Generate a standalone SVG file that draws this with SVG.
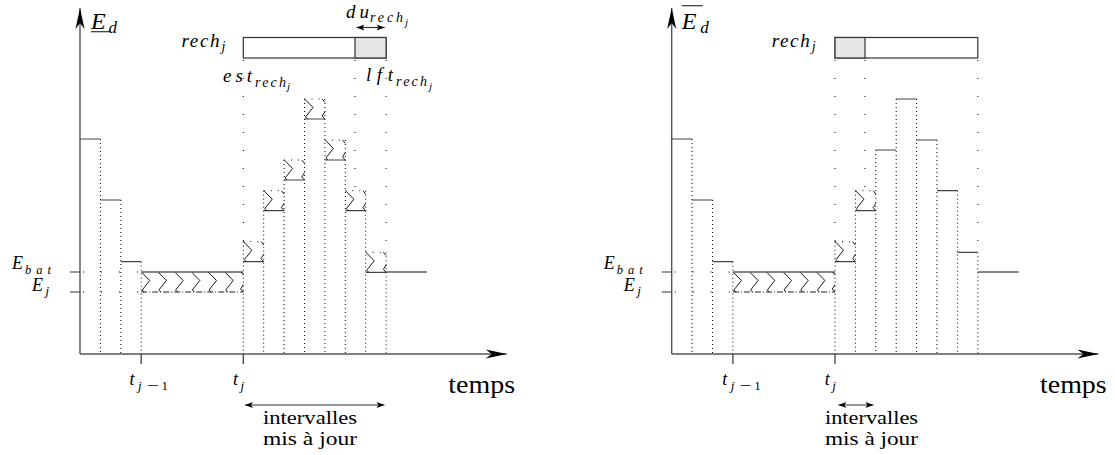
<svg xmlns="http://www.w3.org/2000/svg" xmlns:xlink="http://www.w3.org/1999/xlink" width="1115" height="455" viewBox="0 0 1115 455">
<style>
.ax{stroke:#555;stroke-width:1.4;fill:none}
.lv{stroke:#444;stroke-width:1.2;fill:none}
.lk{stroke:#111;stroke-width:1.2;fill:none}
.dd{stroke:#000;stroke-width:1;stroke-dasharray:1 3;fill:none}
.sd{stroke:#000;stroke-width:1;stroke-dasharray:1 17;fill:none}
.dt{stroke:#000;stroke-width:1;stroke-dasharray:1 6;fill:none}
.da{stroke:#222;stroke-width:1;stroke-dasharray:6 2 1 2;fill:none}
.zz{stroke:#000;stroke-width:0.9;fill:none}
.tk{stroke:#333;stroke-width:1.2;fill:none}
.bx{stroke:#333;stroke-width:1.2}
.ar{stroke:#333;stroke-width:1.2;fill:none}
.m{font-family:"Liberation Serif",serif;font-style:italic;fill:#000}
.r{font-family:"Liberation Serif",serif;fill:#000}
</style>
<defs>
<marker id="stealth" markerUnits="userSpaceOnUse" markerWidth="24" markerHeight="12" viewBox="-22 -6 24 12" refX="0" refY="0" orient="auto"><path d="M0,0 L-21,-4.5 L-15,0 L-21,4.5Z" fill="#000"/></marker>
<marker id="sa" markerUnits="userSpaceOnUse" markerWidth="10" markerHeight="8" viewBox="-9 -4 10 8" refX="0" refY="0" orient="auto-start-reverse"><path d="M0,0 L-8,-3 L-6,0 L-8,3Z" fill="#000"/></marker>
<g id="zb"><path class="zz" d="M0.7,0.5 L8.5,8.5 L1,18 L3,20 M17.7,0 L20.4,3.3 M20.4,12.6 L17.7,17 L20.4,20"/><path class="dt" d="M0,0 H20.4"/></g>
<g id="zl"><path class="zz" d="M0.7,0.5 L8.5,8.5 L1,18 L3,20"/></g>
</defs>

<!-- LEFT PANEL -->
<g id="left">
  <g id="left-connectors">
    <path class="ax" d="M80,354 V8" marker-end="url(#stealth)"/>
    <path class="ax" d="M80,354 H506.7" marker-end="url(#stealth)"/>
    <path class="ar" d="M245,405 H384.5" marker-start="url(#sa)" marker-end="url(#sa)"/>
    <path class="ar" d="M356.5,27.5 H384.6" marker-start="url(#sa)" marker-end="url(#sa)"/>
  </g>
  <g id="left-guides">
    <path class="tk" d="M70,272 H80 M70,292 H80 M141.2,354 V364 M243.3,354 V364"/>
    <path class="sd" d="M83,272 H141 M83,292 H141"/>
    <path class="dd" d="M100.4,139 V354 M120.8,200 V354 M141.2,261.7 V354 M243.3,241.7 V354 M263.7,190.7 V354 M284.1,160 V354 M304.5,99 V354 M324.9,99 V354 M345.3,140 V354 M365.7,190.7 V354 M386.1,252.3 V354"/>
    <path class="sd" d="M243.3,60 V241 M386.1,60 V252 M355,60 V190"/>
  </g>
  <g id="left-levels">
    <path class="lv" d="M80,139 H100.4 M100.4,200 H120.8 M120.8,261.7 H141.2 M243.3,261.7 H263.7 M263.7,210.7 H284.1 M284.1,180 H304.5 M304.5,119 H324.9 M324.9,160 H345.3 M345.3,210.7 H365.7 M365.7,272.3 H386.1"/>
    <path class="lk" d="M141.2,272 H243.3 M386.1,272 H427"/>
    <path class="da" d="M141.2,292 H243.3"/>
  </g>
  <g id="left-zigzags">
    <use href="#zl" x="141.2" y="272"/><use href="#zl" x="157.9" y="272"/><use href="#zl" x="174.6" y="272"/><use href="#zl" x="191.3" y="272"/><use href="#zl" x="208" y="272"/><use href="#zl" x="224.7" y="272"/>
    <path class="zz" d="M241,272 L243.3,274.8 M243.3,284.6 L240.6,289 L243.3,292"/>
    <use href="#zb" x="243.3" y="241.7"/>
    <use href="#zb" x="263.7" y="190.7"/>
    <use href="#zb" x="284.1" y="160"/>
    <use href="#zb" x="304.5" y="99"/>
    <use href="#zb" x="324.9" y="140"/>
    <use href="#zb" x="345.3" y="190.7"/>
    <use href="#zb" x="365.7" y="252.3"/>
  </g>
  <g id="left-rech">
    <rect class="bx" x="243.3" y="37.5" width="142.8" height="20.5" fill="#fff"/>
    <rect class="bx" x="355" y="37.5" width="31.1" height="20.5" fill="#e6e6e6"/>
  </g>
  <g id="left-labels">
    <text class="m" x="91" y="28.5" font-size="24">E</text>
    <path class="tk" d="M91,31.7 H110"/>
    <text class="m" x="108.5" y="33" font-size="17">d</text>
    <text class="m" x="181.5" y="46.7" font-size="19" textLength="38">rech</text>
    <text class="m" x="221.5" y="51" font-size="14">j</text>
    <text class="m" x="223" y="81.7" font-size="19" textLength="29">est</text>
    <text class="m" x="255" y="86.5" font-size="14" textLength="31">rech</text>
    <text class="m" x="287" y="90" font-size="11">j</text>
    <text class="m" x="366" y="81" font-size="19" textLength="27">lft</text>
    <text class="m" x="396" y="86" font-size="14" textLength="31">rech</text>
    <text class="m" x="429" y="89.5" font-size="11">j</text>
    <text class="m" x="346" y="17.5" font-size="19" textLength="23">du</text>
    <text class="m" x="370" y="22" font-size="14" textLength="33">rech</text>
    <text class="m" x="405" y="25.5" font-size="11">j</text>
    <text class="m" x="12" y="269" font-size="18">E</text>
    <text class="m" x="25" y="273.5" font-size="12.5" textLength="26">bat</text>
    <text class="m" x="32" y="290.5" font-size="18">E</text>
    <text class="m" x="45.5" y="294.5" font-size="13">j</text>
    <text class="m" x="129.5" y="385" font-size="18">t</text>
    <text class="m" x="138" y="389.5" font-size="13">j</text>
    <text class="r" x="146.5" y="389.5" font-size="13" textLength="12" lengthAdjust="spacingAndGlyphs">−</text>
    <text class="r" x="161.5" y="389.5" font-size="13">1</text>
    <text class="m" x="233" y="385" font-size="18">t</text>
    <text class="m" x="240.5" y="389.5" font-size="13">j</text>
    <text class="r" x="448.3" y="393" font-size="25" textLength="66.7" lengthAdjust="spacingAndGlyphs">temps</text>
    <text class="r" x="263" y="424" font-size="18" textLength="94" lengthAdjust="spacingAndGlyphs">intervalles</text>
    <text class="r" x="263" y="445" font-size="18" textLength="94" lengthAdjust="spacingAndGlyphs">mis à jour</text>
  </g>
</g>

<!-- RIGHT PANEL -->
<g id="right" transform="translate(591.7,0)">
  <g id="right-connectors">
    <path class="ax" d="M80,354 V8" marker-end="url(#stealth)"/>
    <path class="ax" d="M80,354 H506.7" marker-end="url(#stealth)"/>
    <path class="ar" d="M246.7,405 H281.7" marker-start="url(#sa)" marker-end="url(#sa)"/>
  </g>
  <g id="right-guides">
    <path class="tk" d="M70,272 H80 M70,292 H80 M141.2,354 V364 M243.3,354 V364"/>
    <path class="sd" d="M83,272 H141 M83,292 H141"/>
    <path class="dd" d="M100.4,139 V354 M120.8,200 V354 M141.2,261.7 V354 M243.3,241.7 V354 M263.7,190.7 V354 M284.1,150 V354 M304.5,99 V354 M324.9,99 V354 M345.3,140 V354 M365.7,190.7 V354 M386.1,252.3 V354"/>
    <path class="sd" d="M243.3,60 V241 M386.1,60 V252 M273.3,60 V190"/>
  </g>
  <g id="right-levels">
    <path class="lv" d="M80,139 H100.4 M100.4,200 H120.8 M120.8,261.7 H141.2 M243.3,261.7 H263.7 M263.7,210.7 H284.1 M284.1,150 H304.5 M304.5,99 H324.9 M324.9,140 H345.3 M345.3,190.7 H365.7 M365.7,252.3 H386.1"/>
    <path class="lk" d="M141.2,272 H243.3 M386.1,272 H427"/>
    <path class="da" d="M141.2,292 H243.3"/>
  </g>
  <g id="right-zigzags">
    <use href="#zl" x="141.2" y="272"/><use href="#zl" x="157.9" y="272"/><use href="#zl" x="174.6" y="272"/><use href="#zl" x="191.3" y="272"/><use href="#zl" x="208" y="272"/><use href="#zl" x="224.7" y="272"/>
    <path class="zz" d="M241,272 L243.3,274.8 M243.3,284.6 L240.6,289 L243.3,292"/>
    <use href="#zb" x="243.3" y="241.7"/>
    <use href="#zb" x="263.7" y="190.7"/>
  </g>
  <g id="right-rech">
    <rect class="bx" x="243.3" y="37.5" width="142.8" height="20.5" fill="#fff"/>
    <rect class="bx" x="243.3" y="37.5" width="30" height="20.5" fill="#e6e6e6"/>
  </g>
  <g id="right-labels">
    <text class="m" x="90" y="29" font-size="24">E</text>
    <path class="tk" d="M90,5.7 H111"/>
    <text class="m" x="108.5" y="33" font-size="17">d</text>
    <text class="m" x="180" y="46.7" font-size="19" textLength="38">rech</text>
    <text class="m" x="220" y="51" font-size="14">j</text>
    <text class="m" x="12" y="269" font-size="18">E</text>
    <text class="m" x="25" y="273.5" font-size="12.5" textLength="26">bat</text>
    <text class="m" x="32" y="290.5" font-size="18">E</text>
    <text class="m" x="45.5" y="294.5" font-size="13">j</text>
    <text class="m" x="130.5" y="385" font-size="18">t</text>
    <text class="m" x="139" y="389.5" font-size="13">j</text>
    <text class="r" x="147.5" y="389.5" font-size="13" textLength="12" lengthAdjust="spacingAndGlyphs">−</text>
    <text class="r" x="162.5" y="389.5" font-size="13">1</text>
    <text class="m" x="233" y="385" font-size="18">t</text>
    <text class="m" x="240.5" y="389.5" font-size="13">j</text>
    <text class="r" x="448.3" y="393" font-size="25" textLength="66.7" lengthAdjust="spacingAndGlyphs">temps</text>
    <text class="r" x="233.3" y="424" font-size="18" textLength="93" lengthAdjust="spacingAndGlyphs">intervalles</text>
    <text class="r" x="233.3" y="445" font-size="18" textLength="93" lengthAdjust="spacingAndGlyphs">mis à jour</text>
  </g>
</g>
</svg>
